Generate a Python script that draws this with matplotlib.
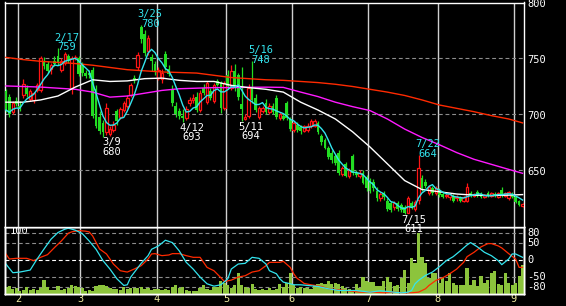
import matplotlib
matplotlib.use("Agg")
import matplotlib.pyplot as plt
import numpy as np
import pandas as pd

plt.rcParams["font.family"] = "DejaVu Sans Mono"

# Tokyo trading days shown on the chart
holidays = ["2022-02-11", "2022-02-23", "2022-03-21", "2022-04-29", "2022-05-03",
            "2022-05-04", "2022-05-05", "2022-07-18", "2022-08-11"]
days = pd.bdate_range("2022-01-26", "2022-09-05")
days = days[~days.isin(pd.to_datetime(holidays))]

opens = [721, 716, 702, 712, 708, 717, 724, 714, 713, 722,
         722, 748, 745, 741, 748, 752, 740, 746, 752, 724,
         751, 750, 744, 737, 737, 740, 723, 698, 692, 684,
         683, 686, 703, 698, 704, 708, 717, 733, 742, 778,
         772, 757, 751, 745, 733, 732, 754, 741, 723, 708,
         703, 699, 697, 710, 713, 716, 704, 724, 711, 721,
         712, 730, 728, 706, 735, 724, 739, 735, 709, 696,
         699, 724, 715, 698, 703, 710, 702, 708, 715, 697,
         699, 710, 696, 686, 691, 689, 685, 686, 690, 690,
         692, 681, 677, 670, 666, 663, 666, 647, 656, 645,
         663, 648, 645, 648, 644, 641, 640, 632, 625, 630,
         623, 621, 617, 621, 619, 617, 612, 621, 616, 624,
         643, 640, 630, 634, 630, 632, 629, 627, 626, 627,
         625, 626, 623, 623, 630, 627, 631, 629, 626, 630,
         627, 629, 626, 633, 627, 625, 629, 626, 623, 618]
highs = [723, 718, 712, 716, 712, 732, 726, 723, 720, 728,
         752, 751, 748, 746, 752, 759, 750, 756, 754, 752,
         753, 752, 747, 740, 740, 742, 726, 703, 695, 710,
         690, 694, 705, 707, 712, 717, 728, 735, 756, 780,
         775, 771, 754, 748, 742, 741, 757, 744, 726, 711,
         706, 705, 708, 716, 718, 720, 722, 727, 730, 724,
         728, 732, 730, 730, 740, 744, 745, 737, 742, 700,
         727, 748, 718, 708, 708, 714, 710, 710, 717, 702,
         701, 712, 698, 694, 693, 691, 691, 692, 696, 696,
         694, 683, 679, 672, 668, 665, 668, 654, 658, 652,
         665, 650, 650, 650, 646, 643, 642, 635, 631, 632,
         625, 623, 623, 623, 621, 619, 627, 623, 624, 664,
         646, 642, 637, 636, 636, 634, 631, 630, 630, 629,
         628, 627, 627, 639, 632, 630, 633, 631, 629, 632,
         631, 631, 631, 635, 631, 632, 631, 627, 624, 621]
lows = [702, 698, 700, 708, 703, 715, 716, 712, 710, 720,
        720, 741, 737, 736, 743, 744, 738, 744, 746, 718,
        749, 734, 734, 733, 733, 697, 688, 683, 680, 682,
        681, 684, 691, 696, 702, 706, 716, 728, 740, 764,
        752, 753, 739, 735, 731, 728, 740, 734, 708, 698,
        696, 693, 695, 708, 710, 702, 702, 717, 709, 713,
        710, 725, 701, 704, 723, 722, 721, 713, 694, 695,
        697, 710, 702, 696, 701, 700, 700, 700, 696, 695,
        695, 695, 685, 684, 684, 683, 684, 684, 688, 689,
        683, 673, 669, 660, 657, 655, 646, 645, 644, 643,
        646, 644, 643, 638, 632, 630, 632, 623, 623, 624,
        614, 613, 615, 614, 613, 611, 612, 616, 614, 620,
        632, 634, 628, 628, 628, 626, 625, 625, 624, 622,
        623, 622, 622, 622, 626, 626, 626, 625, 625, 626,
        626, 626, 625, 626, 626, 624, 625, 621, 618, 617]
closes = [704, 700, 710, 709, 705, 727, 718, 721, 719, 726,
          750, 743, 739, 744, 745, 747, 748, 754, 748, 750,
          751, 736, 737, 734, 735, 699, 690, 685, 684, 706,
          687, 691, 694, 705, 710, 715, 726, 731, 753, 767,
          755, 768, 748, 738, 740, 737, 742, 736, 710, 700,
          699, 697, 705, 713, 715, 704, 719, 719, 728, 715,
          726, 726, 706, 728, 725, 739, 724, 716, 705, 698,
          724, 713, 704, 706, 706, 702, 708, 702, 698, 700,
          696, 697, 687, 692, 686, 685, 690, 690, 694, 694,
          684, 675, 670, 662, 659, 657, 648, 652, 645, 650,
          648, 646, 648, 639, 634, 632, 634, 625, 629, 626,
          616, 615, 621, 616, 615, 612, 625, 617, 622, 652,
          634, 636, 635, 630, 634, 628, 626, 628, 629, 623,
          626, 623, 626, 635, 628, 629, 627, 626, 628, 627,
          630, 628, 630, 627, 630, 631, 626, 622, 619, 620]
volume = [6, 7, 4, 5, 2, 3, 6, 3, 4, 3,
          5, 13, 6, 3, 3, 7, 3, 4, 5, 8,
          7, 6, 5, 2, 3, 2, 7, 8, 8, 7,
          5, 4, 4, 3, 6, 4, 5, 5, 5, 6,
          4, 5, 3, 4, 4, 3, 4, 3, 6, 8,
          5, 6, 3, 2, 2, 2, 5, 8, 4, 3,
          6, 6, 12, 10, 8, 5, 8, 20, 8, 6,
          5, 9, 4, 3, 4, 3, 5, 3, 4, 9,
          6, 10, 20, 8, 5, 6, 5, 5, 4, 8,
          9, 10, 9, 12, 9, 10, 9, 7, 5, 4,
          3, 9, 5, 16, 12, 11, 11, 7, 7, 12,
          16, 11, 7, 8, 15, 23, 10, 35, 30, 60,
          36, 30, 15, 20, 20, 10, 15, 12, 20, 10,
          8, 8, 8, 25, 8, 13, 7, 17, 10, 13,
          20, 22, 9, 8, 20, 10, 8, 10, 17, 28]

# moving averages every 5 sessions
ma_days = list(range(0, 150, 5)) + [149]
ma_white = [711, 711, 713, 716.5, 724.5, 731, 729.5, 730, 732, 732.5,
            730.5, 729.5, 729.5, 726, 724, 722.5, 720, 711, 704, 696,
            684.5, 671, 656, 641, 633, 631, 629, 628, 627.7, 628, 628.5]
ma_magenta = [725.5, 725, 724.5, 723.5, 722.5, 720, 715.5, 716.5, 719, 721.5,
              723, 723.5, 724, 724, 724.3, 724.4, 724.2, 720, 716, 711,
              707, 703.5, 696, 687, 679.5, 673, 666, 660, 655.5, 651, 647.5]
ma_red = [751, 749, 747.5, 746.5, 745.5, 744, 742, 740, 739, 738,
          737.5, 737, 735, 733, 732, 731, 730.5, 729.5, 728.5, 727,
          725, 722.5, 720, 717, 713, 708.5, 705.5, 702.5, 699, 696, 692.5]

# lower panel oscillators
osc_cyan_days = [0, 2, 4, 7, 9, 11, 13, 15, 17, 18, 20, 22, 24, 26, 28, 30, 32, 34, 35, 36,
                 39, 41, 42, 44, 46, 48, 50, 52, 54, 56, 58, 60, 62, 64, 65, 67, 69, 71, 73, 75,
                 76, 78, 79, 80, 82, 83, 85, 90, 93, 96, 101, 105, 108, 112, 114, 116, 117, 118, 119, 121,
                 123, 125, 127, 129, 131, 133, 134, 136, 138, 140, 142, 143, 145, 146, 147, 149]
osc_cyan = [-12, -38, -36, -30, 3, 33, 62, 82, 92, 95, 89, 79, 57, 32, -2, -27, -56, -76, -74, -51,
            -10, 13, 32, 42, 59, 52, 27, -7, -27, -51, -71, -78, -74, -56, -27, -12, -10, 8, 5, -12,
            -32, -41, -56, -66, -71, -74, -74, -79, -86, -91, -91, -96, -92, -96, -98, -96, -91, -71, -61, -46,
            -36, -20, -2, 10, 27, 45, 52, 39, 23, 13, -2, -14, 3, 18, 18, 8]
osc_red_days = [0, 1, 3, 6, 8, 10, 12, 14, 16, 18, 19, 21, 23, 24, 25, 27, 29, 31, 33, 35,
                37, 39, 41, 42, 43, 45, 47, 48, 50, 52, 54, 56, 58, 60, 62, 63, 65, 67, 69, 71,
                73, 75, 76, 79, 80, 82, 83, 84, 85, 86, 88, 91, 93, 98, 102, 106, 109, 112, 115, 117,
                119, 121, 122, 124, 126, 128, 130, 132, 133, 135, 137, 139, 140, 142, 143, 145, 147, 148, 149]
osc_red = [18, 3, 5, 5, -2, 8, 16, 37, 57, 80, 84, 88, 86, 84, 72, 33, 18, -12, -32, -36,
           -27, -17, 3, 18, 19, 13, 15, 19, 19, 13, 8, 8, -22, -32, -53, -64, -60, -51, -47, -36,
           -32, -17, -7, -7, -4, -22, -41, -55, -62, -70, -74, -79, -86, -91, -96, -96, -98, -96, -98, -98,
           -96, -86, -76, -61, -53, -41, -27, -7, 10, 23, 39, 49, 49, 42, 36, 19, 3, -22, -22]

peak_dates = ["2022-02-17", "2022-03-25", "2022-05-16", "2022-07-22"]
trough_dates = ["2022-03-09", "2022-04-12", "2022-05-11", "2022-07-15"]
price_ticks = [800, 750, 700, 650]
osc_ticks = [80, 50, 0, -50, -80]

UP = "#ff1414"
DOWN = "#22dd22"
CYAN = "#33e4ee"
MAGENTA = "#ff1aff"
RED = "#ff2a00"
GRID = "#8c8c8c"
VGRID = "#cfcfcf"
VOL = "#8cc43c"
MONTH = "#eee9a0"
FS = 7.5

opens, highs, lows, closes = map(np.array, (opens, highs, lows, closes))
xs = np.arange(len(days))
ma_short = pd.Series(closes).rolling(5, min_periods=1).mean()
month_pos = [i - 0.5 for i in range(1, len(days)) if days[i].month != days[i - 1].month]
month_lbl = [str(days[int(p + 0.5)].month) for p in month_pos]

W, H = 566, 306
def rect(top, bottom):
    return [4.7 / W, 1 - bottom / H, (524.3 - 4.7) / W, (bottom - top) / H]

fig = plt.figure(figsize=(W / 100, H / 100), dpi=100, facecolor="black")
ax = fig.add_axes(rect(2.5, 226.5), facecolor="black")
axg = fig.add_axes(rect(226.5, 293.5), facecolor="black")
axv = axg.twinx()
axo = axg.twinx()
ax.set_zorder(5)  # lets the low labels spill over the lower panel

for a in (ax, axg, axv, axo):
    a.set_xlim(-0.35, 149.5)
    a.tick_params(length=0, labelleft=False, labelright=False, labelbottom=False)
    for s in a.spines.values():
        s.set_color("white")
        s.set_linewidth(1)
ax.set_ylim(600, 800)
axg.set_ylim(-100, 100)
axo.set_ylim(-100, 100)
axv.set_ylim(0, max(volume) * 200 / 180)

# grid
for p in month_pos:
    ax.axvline(p, color=VGRID, lw=1, zorder=0.5)
    axg.axvline(p, color=VGRID, lw=1, zorder=0.5)
for v in price_ticks[1:]:
    ax.axhline(v, color=GRID, lw=0.8, ls=(0, (3.5, 2.5)), zorder=0.6)
for v in osc_ticks:
    axg.axhline(v, color="white" if v == 0 else GRID, lw=0.8, ls=(0, (3.5, 2.5)))

# candles
up = closes >= opens
ax.vlines(xs, lows, highs, colors=np.where(up, UP, DOWN), lw=0.9, zorder=3)
bottom = np.minimum(opens, closes)
height = np.maximum(np.abs(closes - opens), 0.5)
ax.bar(xs[up], height[up], bottom=bottom[up], width=0.75, facecolor="black",
       edgecolor=UP, lw=0.9, zorder=4)
ax.bar(xs[~up], height[~up], bottom=bottom[~up], width=0.8, color=DOWN, lw=0, zorder=4)

ax.plot(ma_days, ma_red, color=RED, lw=1, zorder=5)
ax.plot(ma_days, ma_magenta, color=MAGENTA, lw=1, zorder=5)
ax.plot(ma_days, ma_white, color="white", lw=1, zorder=5)
ax.plot(xs, ma_short, color=CYAN, lw=1, zorder=5)

for d in peak_dates:
    i = days.get_loc(pd.Timestamp(d))
    ax.annotate(f"{days[i].month}/{days[i].day}\n{highs[i]}", xy=(i, highs[i]),
                xytext=(9, -4), textcoords="offset pixels", ha="center", va="bottom",
                color=CYAN, fontsize=FS, linespacing=0.95, zorder=6)
for d in trough_dates:
    i = days.get_loc(pd.Timestamp(d))
    ax.annotate(f"{days[i].month}/{days[i].day}\n{lows[i]}", xy=(i, lows[i]),
                xytext=(9, -0.5), textcoords="offset pixels", ha="center", va="top",
                color="white", fontsize=FS, linespacing=0.95, zorder=6)

for v in price_ticks:
    ax.annotate(str(v), xy=(1, v), xycoords=("axes fraction", "data"), xytext=(3, -2),
                textcoords="offset pixels", ha="left", va="center", color="white",
                fontsize=FS, annotation_clip=False)

# lower panel
axv.bar(xs, volume, width=0.92, color=VOL, lw=0)
axo.plot(osc_red_days, osc_red, color=RED, lw=0.9)
axo.plot(osc_cyan_days, osc_cyan, color=CYAN, lw=0.9)
for v in osc_ticks:
    axo.annotate(str(v), xy=(1, v), xycoords=("axes fraction", "data"), xytext=(3, 0),
                 textcoords="offset pixels", ha="left", va="center", color="white",
                 fontsize=FS, annotation_clip=False)
axo.text(0.009, 0.93, "100", transform=axo.transAxes, ha="left", va="center",
         color="white", fontsize=FS)

axg.set_xticks(month_pos)
axg.set_xticklabels(month_lbl)
axg.tick_params(axis="x", labelbottom=True, labelcolor=MONTH, labelsize=FS, pad=0.5)

fig.savefig("out.png", dpi=100, facecolor="black")
